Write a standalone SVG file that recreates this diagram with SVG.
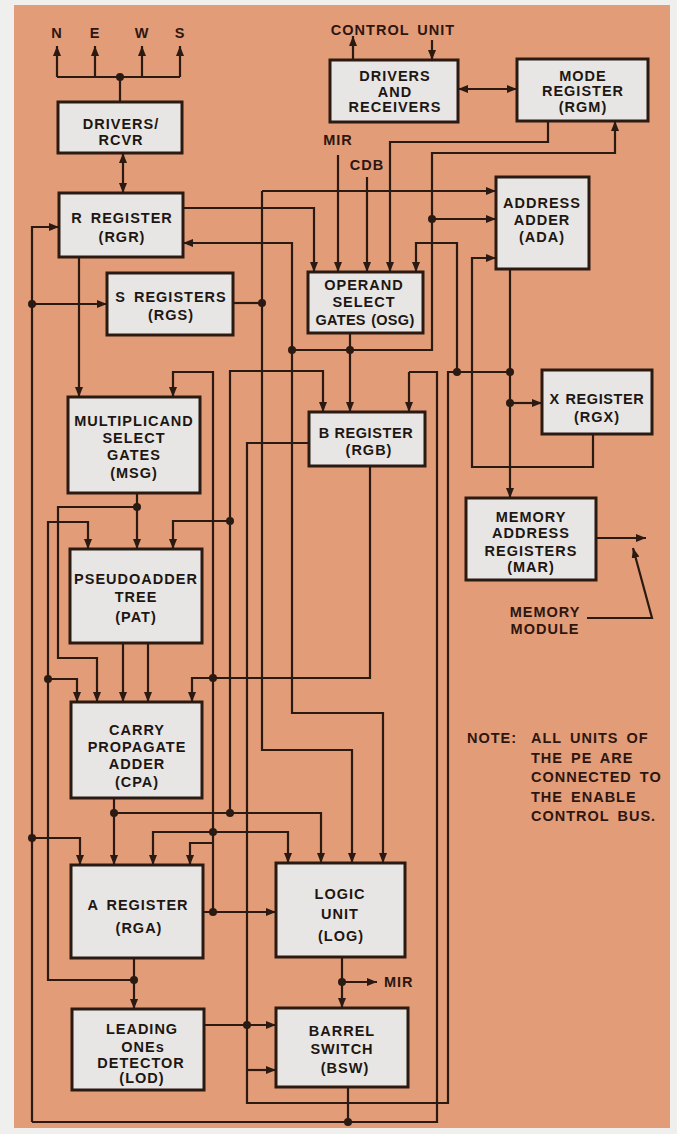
<svg xmlns="http://www.w3.org/2000/svg" width="677" height="1134" viewBox="0 0 677 1134">
<defs>
<style>
.bg{fill:#efefed}
.panel{fill:#e39c78}
.box{fill:#e7e6e4;stroke:#2a1a12;stroke-width:3}
.t{font-family:"Liberation Sans",Arial,sans-serif;font-weight:bold;font-size:14.5px;letter-spacing:1px;word-spacing:3px;fill:#1e1612;text-anchor:middle}
.lbl{font-family:"Liberation Sans",Arial,sans-serif;font-weight:bold;font-size:14.5px;letter-spacing:1px;word-spacing:3px;fill:#2e1610}
.w{fill:none;stroke:#2a1a12;stroke-width:2.2}
.a{marker-end:url(#ah)}
.d{marker-start:url(#ahs);marker-end:url(#ah)}
.dot{fill:#2a1a12}
</style>
<marker id="ah" viewBox="0 0 10 8" refX="10" refY="4" markerWidth="10" markerHeight="8" markerUnits="userSpaceOnUse" orient="auto"><path d="M0,0 L10,4 L0,8 Z" fill="#2a1a12"/></marker>
<marker id="ahs" viewBox="0 0 10 8" refX="10" refY="4" markerWidth="10" markerHeight="8" markerUnits="userSpaceOnUse" orient="auto-start-reverse"><path d="M0,0 L10,4 L0,8 Z" fill="#2a1a12"/></marker>
</defs>
<rect class="bg" x="0" y="0" width="677" height="1134"/>
<rect class="panel" x="14" y="5" width="656" height="1123"/>

<g id="connectors">
<!-- NEWS bus -->
<path class="w" d="M57,77 H180"/>
<path class="w a" d="M57,77 V46"/>
<path class="w a" d="M95,77 V46"/>
<path class="w a" d="M142,77 V46"/>
<path class="w a" d="M180,77 V46"/>
<path class="w" d="M120,77 V102"/>
<path class="w d" d="M123,153 V193"/>
<!-- control unit -->
<path class="w a" d="M353,60 V36"/>
<path class="w a" d="M432,40 V60"/>
<path class="w d" d="M458,89 H517"/>
<!-- left bus / outer loop -->
<path class="w a" d="M32,1122 V227 H59"/>
<path class="w" d="M32,1122 H437 V372 H409"/>
<path class="w a" d="M409,372 V412"/>
<path class="w" d="M348,1087 V1122"/>
<path class="w a" d="M32,304 H107"/>
<path class="w a" d="M32,838 H80 V865"/>
<!-- RGM -->
<path class="w a" d="M548,121 V142 H390 V272"/>
<path class="w a" d="M292,350 H432 V153 H615 V121"/>
<path class="w a" d="M432,219 H496"/>
<!-- x=262 line -->
<path class="w a" d="M262,191 H496"/>
<path class="w a" d="M262,191 V750 H352 V863"/>
<path class="w" d="M233,303 H262"/>
<!-- RGR -->
<path class="w a" d="M183,208 H314 V272"/>
<path class="w a" d="M292,350 V243 H183"/>
<path class="w a" d="M292,350 V713 H383 V863"/>
<!-- MIR, CDB -->
<path class="w a" d="M338,155 V272"/>
<path class="w a" d="M367,177 V272"/>
<!-- OSG -->
<path class="w a" d="M457,372 V243 H416 V272"/>
<path class="w a" d="M350,333 V412"/>
<!-- ADA, RGX, MAR -->
<path class="w a" d="M593,434 V467 H472 V258 H496"/>
<path class="w a" d="M510,269 V498"/>
<path class="w a" d="M510,403 H542"/>
<path class="w" d="M310,443 H247 V1103 H448 V372 H510"/>
<path class="w a" d="M247,1070 H276"/>
<path class="w a" d="M596,538 H646"/>
<path class="w a" d="M587,618 H652 L633,548"/>
<!-- RGB top-left, PAT -->
<path class="w a" d="M230,813 V371 H323 V412"/>
<path class="w a" d="M230,521 H173 V549"/>
<!-- x=213 line -->
<path class="w a" d="M213,912 V372 H173 V397"/>
<path class="w a" d="M79,257 V397"/>
<!-- MSG out -->
<path class="w a" d="M137,493 V549"/>
<path class="w a" d="M137,507 H58 V658 H97 V702"/>
<!-- x=48 -->
<path class="w a" d="M134,980 H48 V522 H88 V549"/>
<path class="w a" d="M48,679 H77 V702"/>
<!-- PAT out -->
<path class="w a" d="M123,643 V702"/>
<path class="w a" d="M148,643 V702"/>
<!-- RGB out -->
<path class="w a" d="M370,466 V678 H192 V702"/>
<!-- CPA out -->
<path class="w a" d="M114,798 V865"/>
<path class="w a" d="M114,813 H321 V863"/>
<path class="w a" d="M213,832 H153 V865"/>
<path class="w a" d="M213,832 H288 V863"/>
<path class="w a" d="M213,843 H190 V865"/>
<!-- RGA out -->
<path class="w a" d="M203,912 H276"/>
<path class="w a" d="M134,958 V1009"/>
<!-- LOG out -->
<path class="w a" d="M342,957 V1008"/>
<path class="w a" d="M342,982 H377"/>
<!-- LOD out -->
<path class="w a" d="M204,1025 H276"/>
<!-- junction dots -->
<g class="dot">
<circle cx="120" cy="77" r="4"/>
<circle cx="32" cy="304" r="4"/>
<circle cx="32" cy="838" r="4"/>
<circle cx="348" cy="1122" r="4"/>
<circle cx="432" cy="219" r="4"/>
<circle cx="262" cy="303" r="4"/>
<circle cx="292" cy="350" r="4"/>
<circle cx="350" cy="350" r="4"/>
<circle cx="457" cy="372" r="4"/>
<circle cx="510" cy="372" r="4"/>
<circle cx="510" cy="403" r="4"/>
<circle cx="137" cy="507" r="4"/>
<circle cx="230" cy="521" r="4"/>
<circle cx="48" cy="679" r="4"/>
<circle cx="213" cy="678" r="4"/>
<circle cx="114" cy="813" r="4"/>
<circle cx="230" cy="813" r="4"/>
<circle cx="213" cy="832" r="4"/>
<circle cx="213" cy="912" r="4"/>
<circle cx="134" cy="980" r="4"/>
<circle cx="342" cy="982" r="4"/>
<circle cx="247" cy="1025" r="4"/>
</g>
</g>

<g id="labels">
<text class="lbl" x="57" y="38" text-anchor="middle">N</text>
<text class="lbl" x="95" y="38" text-anchor="middle">E</text>
<text class="lbl" x="142" y="38" text-anchor="middle">W</text>
<text class="lbl" x="180" y="38" text-anchor="middle">S</text>
<text class="lbl" x="393" y="35" text-anchor="middle">CONTROL UNIT</text>
<text class="lbl" x="338" y="145" text-anchor="middle">MIR</text>
<text class="lbl" x="367" y="170" text-anchor="middle">CDB</text>
<text class="lbl" x="384" y="987">MIR</text>
<text class="lbl" x="545" y="617" text-anchor="middle">MEMORY</text>
<text class="lbl" x="545" y="634" text-anchor="middle">MODULE</text>
<text class="lbl" x="467" y="743">NOTE:</text>
<text class="lbl" x="531" y="743">ALL UNITS OF</text>
<text class="lbl" x="531" y="763">THE PE ARE</text>
<text class="lbl" x="531" y="782">CONNECTED TO</text>
<text class="lbl" x="531" y="802">THE ENABLE</text>
<text class="lbl" x="531" y="821">CONTROL BUS.</text>
</g>

<g id="drivers-rcvr"><rect class="box" x="58" y="102" width="124" height="51"/><text class="t" x="121" y="129">DRIVERS/</text><text class="t" x="121" y="145">RCVR</text></g>
<g id="rgr"><rect class="box" x="59" y="193" width="124" height="64"/><text class="t" x="122" y="223">R REGISTER</text><text class="t" x="122" y="242">(RGR)</text></g>
<g id="rgs"><rect class="box" x="107" y="273" width="126" height="62"/><text class="t" x="171" y="302">S REGISTERS</text><text class="t" x="171" y="320">(RGS)</text></g>
<g id="msg"><rect class="box" x="68" y="397" width="132" height="96"/><text class="t" x="134" y="426">MULTIPLICAND</text><text class="t" x="134" y="443">SELECT</text><text class="t" x="134" y="460">GATES</text><text class="t" x="134" y="478">(MSG)</text></g>
<g id="pat"><rect class="box" x="70" y="549" width="132" height="94"/><text class="t" x="136" y="584">PSEUDOADDER</text><text class="t" x="136" y="602">TREE</text><text class="t" x="136" y="622">(PAT)</text></g>
<g id="cpa"><rect class="box" x="71" y="702" width="131" height="96"/><text class="t" x="137" y="735">CARRY</text><text class="t" x="137" y="752">PROPAGATE</text><text class="t" x="137" y="769">ADDER</text><text class="t" x="137" y="787">(CPA)</text></g>
<g id="rga"><rect class="box" x="71" y="865" width="132" height="93"/><text class="t" x="138" y="910">A REGISTER</text><text class="t" x="139" y="933">(RGA)</text></g>
<g id="lod"><rect class="box" x="72" y="1009" width="132" height="81"/><text class="t" x="142" y="1034">LEADING</text><text class="t" x="143" y="1052">ONEs</text><text class="t" x="141" y="1068">DETECTOR</text><text class="t" x="142" y="1083">(LOD)</text></g>
<g id="drivers-receivers"><rect class="box" x="330" y="60" width="128" height="62"/><text class="t" x="395" y="81">DRIVERS</text><text class="t" x="395" y="97">AND</text><text class="t" x="395" y="112">RECEIVERS</text></g>
<g id="rgm"><rect class="box" x="517" y="59" width="131" height="62"/><text class="t" x="583" y="81">MODE</text><text class="t" x="583" y="96">REGISTER</text><text class="t" x="583" y="112">(RGM)</text></g>
<g id="osg"><rect class="box" x="308" y="272" width="115" height="61"/><text class="t" x="364" y="290">OPERAND</text><text class="t" x="364" y="307">SELECT</text><text class="t" x="365" y="325" style="letter-spacing:0.3px;word-spacing:1px">GATES (OSG)</text></g>
<g id="ada"><rect class="box" x="496" y="177" width="93" height="92"/><text class="t" x="542" y="208">ADDRESS</text><text class="t" x="542" y="225">ADDER</text><text class="t" x="542" y="242">(ADA)</text></g>
<g id="rgb"><rect class="box" x="309" y="412" width="116" height="54"/><text class="t" x="366" y="438" style="letter-spacing:0.6px;word-spacing:0">B REGISTER</text><text class="t" x="369" y="455">(RGB)</text></g>
<g id="rgx"><rect class="box" x="542" y="370" width="110" height="64"/><text class="t" x="597" y="404" style="letter-spacing:0.6px;word-spacing:1px">X REGISTER</text><text class="t" x="597" y="422">(RGX)</text></g>
<g id="mar"><rect class="box" x="466" y="498" width="130" height="82"/><text class="t" x="531" y="522">MEMORY</text><text class="t" x="531" y="538">ADDRESS</text><text class="t" x="531" y="556">REGISTERS</text><text class="t" x="531" y="572">(MAR)</text></g>
<g id="log"><rect class="box" x="276" y="863" width="129" height="94"/><text class="t" x="340" y="899">LOGIC</text><text class="t" x="340" y="919">UNIT</text><text class="t" x="341" y="941">(LOG)</text></g>
<g id="bsw"><rect class="box" x="276" y="1008" width="132" height="79"/><text class="t" x="342" y="1036">BARREL</text><text class="t" x="342" y="1054">SWITCH</text><text class="t" x="345" y="1073">(BSW)</text></g>
</svg>
